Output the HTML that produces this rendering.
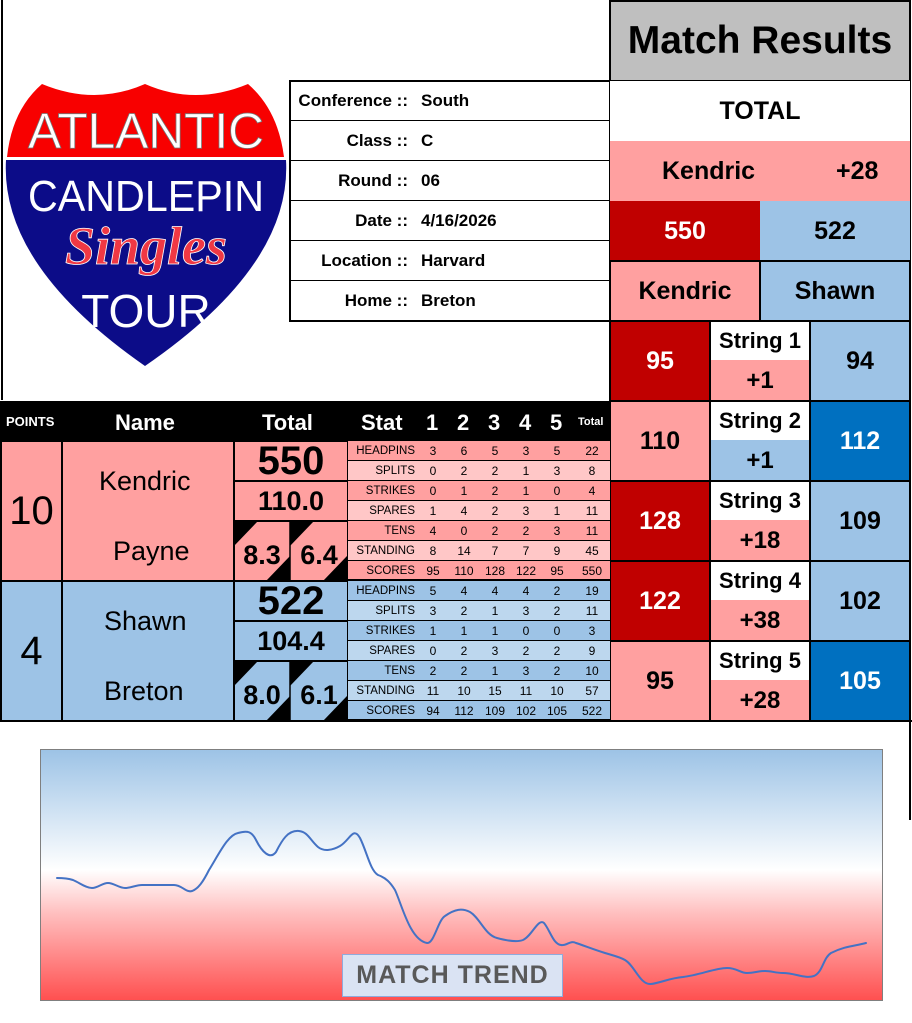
<!DOCTYPE html>
<html><head><meta charset="utf-8"><style>
*{margin:0;padding:0;box-sizing:border-box}
body{width:912px;height:1023px;background:#fff;position:relative;overflow:hidden;font-family:"Liberation Sans",sans-serif;font-weight:bold;color:#000}
.c{position:absolute;display:flex;align-items:center;justify-content:center;box-sizing:border-box}
.b{border:2px solid #000}
.row{position:absolute;left:348px;width:262px;height:20px;border-bottom:1px solid #000;font-weight:normal;font-size:12px}
.row span{position:absolute;top:0;line-height:20px;width:30px;text-align:center}
.row span.l{left:0;width:67px;text-align:right;font-size:11.5px}
.info{position:absolute;left:290px;width:320px;height:40px;border-bottom:1px solid #000;font-size:17px;line-height:40px}
.info .k{position:absolute;right:202px}
.info .v{position:absolute;left:131px}
</style></head><body>
<div style="position:absolute;left:1px;top:0;width:2px;height:400px;background:#000"></div>
<div style="position:absolute;left:909px;top:0;width:2px;height:820px;background:#000"></div>

<svg style="position:absolute;left:0;top:80px;font-weight:normal" width="292" height="292" viewBox="0 80 292 292">
<path d="M7 157 Q12 110 42 84 Q95 106 145 84 Q195 106 248 84 Q278 110 284 157 Z" fill="#f80000"/>
<path d="M6 160 L286 160 Q292 265 145 366 Q0 265 6 160 Z" fill="#0c0c88"/>
<text x="146" y="148" text-anchor="middle" font-family="Liberation Sans" font-weight="normal" font-size="50" fill="#fff" stroke="#777" stroke-width="0.8" textLength="236" lengthAdjust="spacingAndGlyphs">ATLANTIC</text>
<text x="146" y="211" text-anchor="middle" font-family="Liberation Sans" font-weight="normal" font-size="44" fill="#fff" textLength="236" lengthAdjust="spacingAndGlyphs">CANDLEPIN</text>
<text x="146" y="264" text-anchor="middle" font-family="Liberation Serif" font-style="italic" font-weight="bold" font-size="54" fill="#f03844" stroke="#fff" stroke-width="0.8">Singles</text>
<text x="146" y="327" text-anchor="middle" font-family="Liberation Sans" font-weight="normal" font-size="46" fill="#fff">TOUR</text>
</svg>

<div style="position:absolute;left:289px;top:80px;width:322px;height:242px;border:2px solid #000"></div>
<div class="info" style="top:81px"><span class="k">Conference ::</span><span class="v">South</span></div>
<div class="info" style="top:121px"><span class="k">Class ::</span><span class="v">C</span></div>
<div class="info" style="top:161px"><span class="k">Round ::</span><span class="v">06</span></div>
<div class="info" style="top:201px"><span class="k">Date ::</span><span class="v">4/16/2026</span></div>
<div class="info" style="top:241px"><span class="k">Location ::</span><span class="v">Harvard</span></div>
<div class="info" style="top:281px;border-bottom:none"><span class="k">Home ::</span><span class="v">Breton</span></div>

<div class="c b" style="left:609px;top:0;width:302px;height:82px;background:#bfbfbf;font-size:39px">Match Results</div>
<div class="c" style="left:610px;top:81px;width:300px;height:60px;background:#fff;font-size:25px">TOTAL</div>
<div class="c" style="left:610px;top:141px;width:300px;height:60px;background:#ffa0a0;font-size:25px"><span style="position:absolute;left:52px">Kendric</span><span style="position:absolute;left:226px">+28</span></div>
<div class="c" style="left:610px;top:201px;width:150px;height:60px;background:#c00000;color:#fff;font-size:25px">550</div>
<div class="c" style="left:760px;top:201px;width:150px;height:60px;background:#9dc3e6;font-size:25px">522</div>
<div class="c b" style="left:609px;top:260px;width:152px;height:62px;background:#ffa0a0;font-size:25px">Kendric</div>
<div class="c b" style="left:759px;top:260px;width:152px;height:62px;background:#9dc3e6;font-size:25px">Shawn</div>

<div class="c b" style="left:609px;top:320px;width:102px;height:82px;background:#c00000;color:#fff;font-size:25px">95</div>
<div class="c b" style="left:709px;top:320px;width:102px;height:82px;background:#ffa0a0;font-size:24px;padding-top:40px">+1</div>
<div class="c" style="left:711px;top:322px;width:98px;height:38px;background:#fff;font-size:22px">String 1</div>
<div class="c b" style="left:809px;top:320px;width:102px;height:82px;background:#9dc3e6;font-size:25px">94</div>

<div class="c b" style="left:609px;top:400px;width:102px;height:82px;background:#ffa0a0;font-size:25px">110</div>
<div class="c b" style="left:709px;top:400px;width:102px;height:82px;background:#9dc3e6;font-size:24px;padding-top:40px">+1</div>
<div class="c" style="left:711px;top:402px;width:98px;height:38px;background:#fff;font-size:22px">String 2</div>
<div class="c b" style="left:809px;top:400px;width:102px;height:82px;background:#0070c0;color:#fff;font-size:25px">112</div>

<div class="c b" style="left:609px;top:480px;width:102px;height:82px;background:#c00000;color:#fff;font-size:25px">128</div>
<div class="c b" style="left:709px;top:480px;width:102px;height:82px;background:#ffa0a0;font-size:24px;padding-top:40px">+18</div>
<div class="c" style="left:711px;top:482px;width:98px;height:38px;background:#fff;font-size:22px">String 3</div>
<div class="c b" style="left:809px;top:480px;width:102px;height:82px;background:#9dc3e6;font-size:25px">109</div>

<div class="c b" style="left:609px;top:560px;width:102px;height:82px;background:#c00000;color:#fff;font-size:25px">122</div>
<div class="c b" style="left:709px;top:560px;width:102px;height:82px;background:#ffa0a0;font-size:24px;padding-top:40px">+38</div>
<div class="c" style="left:711px;top:562px;width:98px;height:38px;background:#fff;font-size:22px">String 4</div>
<div class="c b" style="left:809px;top:560px;width:102px;height:82px;background:#9dc3e6;font-size:25px">102</div>

<div class="c b" style="left:609px;top:640px;width:102px;height:82px;background:#ffa0a0;font-size:25px">95</div>
<div class="c b" style="left:709px;top:640px;width:102px;height:82px;background:#ffa0a0;font-size:24px;padding-top:40px">+28</div>
<div class="c" style="left:711px;top:642px;width:98px;height:38px;background:#fff;font-size:22px">String 5</div>
<div class="c b" style="left:809px;top:640px;width:102px;height:82px;background:#0070c0;color:#fff;font-size:25px">105</div>

<div style="position:absolute;left:0;top:401px;width:610px;height:41px;background:#000;color:#fff">
<span style="position:absolute;left:6px;top:13px;font-size:13px">POINTS</span>
<span style="position:absolute;left:115px;top:9px;font-size:22px">Name</span>
<span style="position:absolute;left:262px;top:9px;font-size:22px">Total</span>
<span style="position:absolute;left:361px;top:9px;font-size:22px">Stat</span>
<span style="position:absolute;left:426px;top:9px;font-size:22px">1</span>
<span style="position:absolute;left:457px;top:9px;font-size:22px">2</span>
<span style="position:absolute;left:488px;top:9px;font-size:22px">3</span>
<span style="position:absolute;left:519px;top:9px;font-size:22px">4</span>
<span style="position:absolute;left:550px;top:9px;font-size:22px">5</span>
<span style="position:absolute;left:578px;top:15px;font-size:11px">Total</span>
</div>

<div class="c b" style="left:0;top:440px;width:63px;height:142px;background:#ffa0a0;font-size:40px;font-weight:normal">10</div>
<div class="b" style="position:absolute;left:61px;top:440px;width:174px;height:142px;background:#ffa0a0;font-weight:normal;font-size:27px">
<span style="position:absolute;left:36px;top:24px">Kendric</span><span style="position:absolute;left:50px;top:94px">Payne</span></div>
<div class="c b" style="left:233px;top:440px;width:116px;height:42px;background:#ffa0a0;font-size:40px">550</div>
<div class="c b" style="left:233px;top:480px;width:116px;height:42px;background:#ffa0a0;font-size:27px">110.0</div>
<div class="b" style="position:absolute;left:233px;top:520px;width:116px;height:62px;background:#ffa0a0"></div>
<svg style="position:absolute;left:233px;top:520px" width="116" height="62">
<polygon points="1,1 25,1 1,26" fill="#000"/><polygon points="57,36 57,61 33,61" fill="#000"/>
<polygon points="57,1 81,1 57,26" fill="#000"/><polygon points="114,36 114,61 90,61" fill="#000"/>
<line x1="57" y1="0" x2="57" y2="62" stroke="#000" stroke-width="1.5"/>
<text x="29" y="44" text-anchor="middle" font-family="Liberation Sans" font-weight="bold" font-size="27">8.3</text>
<text x="86" y="44" text-anchor="middle" font-family="Liberation Sans" font-weight="bold" font-size="27">6.4</text>
</svg>

<div class="c b" style="left:0;top:580px;width:63px;height:142px;background:#9dc3e6;font-size:40px;font-weight:normal">4</div>
<div class="b" style="position:absolute;left:61px;top:580px;width:174px;height:142px;background:#9dc3e6;font-weight:normal;font-size:27px">
<span style="position:absolute;left:41px;top:24px">Shawn</span><span style="position:absolute;left:41px;top:94px">Breton</span></div>
<div class="c b" style="left:233px;top:580px;width:116px;height:42px;background:#9dc3e6;font-size:40px">522</div>
<div class="c b" style="left:233px;top:620px;width:116px;height:42px;background:#9dc3e6;font-size:27px">104.4</div>
<div class="b" style="position:absolute;left:233px;top:660px;width:116px;height:62px;background:#9dc3e6"></div>
<svg style="position:absolute;left:233px;top:660px" width="116" height="62">
<polygon points="1,1 25,1 1,26" fill="#000"/><polygon points="57,36 57,61 33,61" fill="#000"/>
<polygon points="57,1 81,1 57,26" fill="#000"/><polygon points="114,36 114,61 90,61" fill="#000"/>
<line x1="57" y1="0" x2="57" y2="62" stroke="#000" stroke-width="1.5"/>
<text x="29" y="44" text-anchor="middle" font-family="Liberation Sans" font-weight="bold" font-size="27">8.0</text>
<text x="86" y="44" text-anchor="middle" font-family="Liberation Sans" font-weight="bold" font-size="27">6.1</text>
</svg>

<div class="row" style="top:441px;background:#ffa0a0"><span class="l">HEADPINS</span><span style="left:70px">3</span><span style="left:101px">6</span><span style="left:132px">5</span><span style="left:163px">3</span><span style="left:194px">5</span><span style="left:229px">22</span></div>
<div class="row" style="top:461px;background:#ffc7c7"><span class="l">SPLITS</span><span style="left:70px">0</span><span style="left:101px">2</span><span style="left:132px">2</span><span style="left:163px">1</span><span style="left:194px">3</span><span style="left:229px">8</span></div>
<div class="row" style="top:481px;background:#ffa0a0"><span class="l">STRIKES</span><span style="left:70px">0</span><span style="left:101px">1</span><span style="left:132px">2</span><span style="left:163px">1</span><span style="left:194px">0</span><span style="left:229px">4</span></div>
<div class="row" style="top:501px;background:#ffc7c7"><span class="l">SPARES</span><span style="left:70px">1</span><span style="left:101px">4</span><span style="left:132px">2</span><span style="left:163px">3</span><span style="left:194px">1</span><span style="left:229px">11</span></div>
<div class="row" style="top:521px;background:#ffa0a0"><span class="l">TENS</span><span style="left:70px">4</span><span style="left:101px">0</span><span style="left:132px">2</span><span style="left:163px">2</span><span style="left:194px">3</span><span style="left:229px">11</span></div>
<div class="row" style="top:541px;background:#ffc7c7"><span class="l">STANDING</span><span style="left:70px">8</span><span style="left:101px">14</span><span style="left:132px">7</span><span style="left:163px">7</span><span style="left:194px">9</span><span style="left:229px">45</span></div>
<div class="row" style="top:561px;background:#ffa0a0;border-bottom:2px solid #000"><span class="l">SCORES</span><span style="left:70px">95</span><span style="left:101px">110</span><span style="left:132px">128</span><span style="left:163px">122</span><span style="left:194px">95</span><span style="left:229px">550</span></div>
<div class="row" style="top:581px;background:#9dc3e6"><span class="l">HEADPINS</span><span style="left:70px">5</span><span style="left:101px">4</span><span style="left:132px">4</span><span style="left:163px">4</span><span style="left:194px">2</span><span style="left:229px">19</span></div>
<div class="row" style="top:601px;background:#bdd7ee"><span class="l">SPLITS</span><span style="left:70px">3</span><span style="left:101px">2</span><span style="left:132px">1</span><span style="left:163px">3</span><span style="left:194px">2</span><span style="left:229px">11</span></div>
<div class="row" style="top:621px;background:#9dc3e6"><span class="l">STRIKES</span><span style="left:70px">1</span><span style="left:101px">1</span><span style="left:132px">1</span><span style="left:163px">0</span><span style="left:194px">0</span><span style="left:229px">3</span></div>
<div class="row" style="top:641px;background:#bdd7ee"><span class="l">SPARES</span><span style="left:70px">0</span><span style="left:101px">2</span><span style="left:132px">3</span><span style="left:163px">2</span><span style="left:194px">2</span><span style="left:229px">9</span></div>
<div class="row" style="top:661px;background:#9dc3e6"><span class="l">TENS</span><span style="left:70px">2</span><span style="left:101px">2</span><span style="left:132px">1</span><span style="left:163px">3</span><span style="left:194px">2</span><span style="left:229px">10</span></div>
<div class="row" style="top:681px;background:#bdd7ee"><span class="l">STANDING</span><span style="left:70px">11</span><span style="left:101px">10</span><span style="left:132px">15</span><span style="left:163px">11</span><span style="left:194px">10</span><span style="left:229px">57</span></div>
<div class="row" style="top:701px;background:#9dc3e6;border-bottom:2px solid #000"><span class="l">SCORES</span><span style="left:70px">94</span><span style="left:101px">112</span><span style="left:132px">109</span><span style="left:163px">102</span><span style="left:194px">105</span><span style="left:229px">522</span></div>
<div style="position:absolute;left:0;top:720px;width:912px;height:2px;background:#000"></div>

<div style="position:absolute;left:40px;top:749px;width:843px;height:252px;border:1px solid #7f7f7f;background:linear-gradient(#9dc3e6 0%,#ffffff 48%,#ffc0c0 65%,#ff5050 100%)"></div>
<svg style="position:absolute;left:0;top:0" width="912" height="1023">
<path fill="none" stroke="#4472c4" stroke-width="2" stroke-linecap="round" d="M57,878 C65,878 70,879 73,880 C80,883 86,888 92,888 C98,888 102,883 108,883 C114,883 119,888 125,888 C131,888 136,885 142,885 L174,885 C182,885 186,893 192,891 C198,889 203,882 209,870 C220,852 228,835 238,833 C248,830 252,832 256,840 C262,852 270,860 276,852 C282,840 288,830 299,831 C308,832 310,840 318,847 C324,852 333,850 340,846 C350,840 353,826 360,838 C367,852 370,870 378,875 C386,878 390,882 395,890 C402,905 410,940 427,943 C434,944 438,920 445,916 C455,909 462,908 470,912 C480,918 485,935 497,938 C508,941 518,942 523,940 C532,936 538,918 544,923 C550,930 553,944 561,945 C567,946 570,940 576,943 C585,946 595,950 605,953 C615,956 620,957 625,960 C635,966 640,985 651,984 C660,983 670,978 683,977 C700,975 715,968 727,968 C737,968 740,973 747,973 C755,973 757,971 765,971 C772,971 775,973 783,973 C795,973 805,979 814,976 C823,972 823,958 831,953 C845,946 855,946 866,943"/>
</svg>
<div class="c" style="left:342px;top:954px;width:221px;height:43px;background:#dae3f3;border:1px solid #8faadc;color:#595959;font-size:25px;letter-spacing:1px">MATCH TREND</div>
</body></html>
